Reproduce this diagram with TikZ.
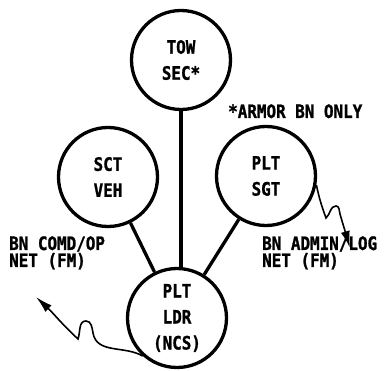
\documentclass[tikz,border=0pt]{standalone}
\usepackage{fontspec}
\setmainfont{DejaVu Sans Mono}[FakeStretch=0.86, FakeBold=1.2]
\usetikzlibrary{arrows.meta}

\begin{document}
\begin{tikzpicture}[
    x=1pt, y=1pt,
    every node/.style={font=\fontsize{18.5}{26}\selectfont\bfseries, align=center},
    unit/.style={draw, circle, line width=3.3pt, minimum size=99pt, inner sep=0pt},
    label/.style={font=\fontsize{18.5}{17}\selectfont\bfseries, align=left, inner sep=0pt, anchor=base west},
    net/.style={line width=1.6pt, -{Latex[length=17pt,width=9pt]}}
]
\useasboundingbox (0,0) rectangle (386,370);

\node[unit] (tow) at (181,310) {TOW\\SEC*};
\node[unit] (sct) at (108,193) {SCT\\VEH};
\node[unit] (sgt) at (266,194) {PLT\\SGT};
\node[unit] (ldr) at (177,52) {PLT\\LDR\\(NCS)};

\node[label] (note) at (228,252) {*ARMOR BN ONLY};
\node[label] (cmdnet) at (9,103) {BN COMD/OP\\NET (FM)};
\node[label] (lognet) at (262,103) {BN ADMIN/LOG\\NET (FM)};

% radio links
\draw[line width=3.3pt] (tow.south) -- (tow.south |- ldr.north);
\draw[line width=3.3pt] (sct) -- (ldr);
\draw[line width=3.3pt] (sgt) -- (ldr);

% higher nets
\draw[net] (ldr.228) to[out=150,in=-80] (93,37) to[out=100,in=0] (86,49)
    to[out=180,in=70] (78,31) to[out=137,in=-43] (36,73);
\draw[net] (sgt.-10) to[out=-78,in=110] (326,152) to[out=40,in=180] (336,164)
    to[out=0,in=105] (340,156) to[out=-74,in=106] (350,122);

\end{tikzpicture}
\end{document}
